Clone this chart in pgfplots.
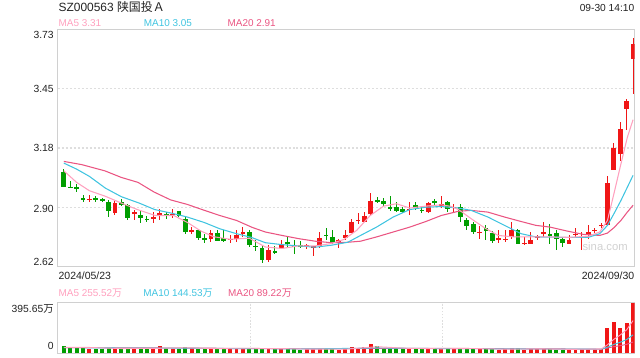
\documentclass[border=0pt]{standalone}
\usepackage{pgfplots}
\pgfplotsset{compat=1.18}
\usepackage{pgfplotstable}
\usepackage{fontspec}
\setmainfont{Liberation Sans}
\newfontfamily\cjk{Noto Sans CJK SC}
\definecolor{cred}{RGB}{240,22,22}
\definecolor{cgreen}{RGB}{0,158,0}
\definecolor{maf}{RGB}{255,160,190}
\definecolor{mat}{RGB}{64,196,224}
\definecolor{maw}{RGB}{234,85,130}
\definecolor{txt}{RGB}{34,34,34}
\definecolor{framec}{RGB}{208,208,208}
\definecolor{gridc}{RGB}{222,222,222}
\begin{document}
\pgfplotstableread{
i o h l c v
4 2.937 2.960 2.925 2.941 38
8 2.876 2.932 2.866 2.920 40
11 2.874 2.890 2.843 2.878 40
14 2.844 2.878 2.827 2.856 40
15 2.869 2.893 2.840 2.873 60
17 2.866 2.893 2.851 2.869 35
20 2.783 2.808 2.774 2.796 40
23 2.754 2.793 2.739 2.778 35
26 2.749 2.769 2.735 2.752 32
27 2.754 2.793 2.739 2.769 35
28 2.780 2.808 2.762 2.782 38
32 2.653 2.723 2.646 2.700 42
34 2.712 2.746 2.708 2.726 34
38 2.719 2.730 2.704 2.722 32
39 2.711 2.720 2.673 2.720 34
40 2.718 2.785 2.712 2.758 38
43 2.735 2.754 2.712 2.746 30
44 2.757 2.793 2.746 2.769 32
45 2.782 2.847 2.778 2.832 50
46 2.838 2.873 2.824 2.841 38
47 2.834 2.878 2.832 2.862 48
48 2.867 2.968 2.862 2.932 72
54 2.891 2.925 2.866 2.894 34
57 2.878 2.927 2.873 2.921 38
59 2.906 2.955 2.897 2.917 36
61 2.900 2.917 2.878 2.904 32
65 2.783 2.813 2.754 2.786 32
68 2.752 2.793 2.735 2.755 30
69 2.750 2.796 2.739 2.752 32
70 2.762 2.834 2.754 2.793 42
72 2.731 2.762 2.723 2.734 30
73 2.731 2.785 2.731 2.746 32
74 2.761 2.773 2.746 2.764 33
75 2.780 2.832 2.762 2.783 38
79 2.731 2.772 2.731 2.746 29
80 2.772 2.805 2.762 2.775 30
81 2.764 2.785 2.700 2.767 32
82 2.772 2.816 2.750 2.785 33
83 2.792 2.805 2.780 2.795 35
84 2.815 2.827 2.805 2.818 38
85 2.816 3.048 2.816 3.014 200
86 3.076 3.199 3.076 3.180 245
87 3.149 3.301 3.118 3.265 200
88 3.361 3.409 3.261 3.396 237
89 3.594 3.694 3.431 3.665 395.65
}\up
\pgfplotstableread{
i o h l c v
0 3.067 3.080 2.997 2.997 55
1 2.997 3.025 2.990 2.994 45
2 2.995 3.010 2.970 2.991 50
3 2.942 2.960 2.925 2.938 46
5 2.943 2.955 2.927 2.935 32
6 2.937 2.945 2.925 2.929 32
7 2.925 2.933 2.855 2.885 46
9 2.927 2.940 2.905 2.912 40
10 2.912 2.918 2.840 2.852 38
12 2.865 2.881 2.828 2.850 42
13 2.845 2.862 2.834 2.842 35
16 2.868 2.880 2.847 2.865 42
18 2.885 2.885 2.855 2.862 38
19 2.847 2.862 2.774 2.785 48
21 2.793 2.801 2.746 2.759 36
22 2.756 2.776 2.735 2.752 34
24 2.782 2.793 2.742 2.742 40
25 2.757 2.793 2.739 2.745 36
29 2.785 2.793 2.715 2.723 42
30 2.719 2.746 2.695 2.716 35
31 2.712 2.720 2.642 2.653 45
33 2.695 2.720 2.683 2.688 34
35 2.740 2.762 2.715 2.730 33
36 2.722 2.746 2.683 2.720 36
37 2.721 2.744 2.708 2.719 30
41 2.771 2.804 2.746 2.768 34
42 2.762 2.793 2.730 2.735 32
49 2.934 2.948 2.920 2.930 55
50 2.928 2.943 2.906 2.915 45
51 2.904 2.955 2.885 2.893 42
52 2.904 2.925 2.878 2.882 40
53 2.893 2.901 2.873 2.878 36
55 2.913 2.925 2.890 2.897 40
56 2.889 2.901 2.875 2.886 32
58 2.929 2.940 2.912 2.926 35
60 2.925 2.932 2.878 2.893 40
62 2.901 2.917 2.834 2.855 42
63 2.842 2.850 2.796 2.813 38
64 2.824 2.832 2.777 2.785 40
66 2.803 2.816 2.746 2.790 34
67 2.780 2.788 2.735 2.742 38
71 2.793 2.800 2.731 2.731 42
76 2.774 2.824 2.731 2.771 33
77 2.780 2.793 2.703 2.750 30
78 2.754 2.762 2.715 2.735 30
}\down
\pgfplotsset{candle/.style={draw=none, mark=none, error bars/.cd, y dir=both, y explicit, error mark=none}}
\begin{tikzpicture}
\useasboundingbox (0,0) rectangle (480pt,270pt);
% ---------- price panel ----------
\begin{axis}[at={(40.875pt,68.775pt)}, anchor=south west, scale only axis,
  width=435pt, height=179.1pt,
  xmin=-0.93, xmax=89.23, ymin=2.6225, ymax=3.7325,
  xtick=\empty, ytick={2.9,3.1775,3.455}, yticklabels={}, major tick length=0pt,
  ymajorgrids, grid style={gridc, line width=0.9pt, dash pattern=on 1.5pt off 1.5pt},
  axis line style={framec, line width=0.8pt}]
% wicks
\addplot[candle, error bar style={line width=0.75pt, draw=cred, solid}]
  table[x=i, y expr={(\thisrow{h}+\thisrow{l})/2}, y error expr={(\thisrow{h}-\thisrow{l})/2}] {\up};
\addplot[candle, error bar style={line width=0.75pt, draw=cgreen, solid}]
  table[x=i, y expr={(\thisrow{h}+\thisrow{l})/2}, y error expr={(\thisrow{h}-\thisrow{l})/2}] {\down};
% bodies
\addplot[candle, error bar style={line width=3.6pt, draw=cred, solid}]
  table[x=i, y expr={(\thisrow{o}+\thisrow{c})/2}, y error expr={max(abs(\thisrow{o}-\thisrow{c})/2,0.0022)}] {\up};
\addplot[candle, error bar style={line width=3.6pt, draw=cgreen, solid}]
  table[x=i, y expr={(\thisrow{o}+\thisrow{c})/2}, y error expr={max(abs(\thisrow{o}-\thisrow{c})/2,0.0022)}] {\down};
% MA20
\addplot[draw=maw, line width=0.8pt] table {
0 3.115
2.8 3.100
6.4 3.071
9 3.040
11.6 3.017
14.1 2.972
16.7 2.935
19.3 2.914
21.9 2.887
24.4 2.862
27 2.839
29.5 2.806
31.5 2.785
34.1 2.769
36.7 2.754
39.3 2.742
41.8 2.735
44.4 2.737
46.4 2.742
48.9 2.762
51.5 2.785
54.1 2.808
56.6 2.834
59 2.862
61.7 2.882
63.7 2.886
66.3 2.878
68.9 2.855
71.5 2.834
73.8 2.816
76 2.808
78.6 2.790
81.2 2.774
83.8 2.769
85.0 2.780
86.0 2.805
87.1 2.839
88.1 2.878
89 2.910
};
% MA10
\addplot[draw=mat, line width=0.8pt] table {
0 3.107
2 3.079
4 3.045
6.5 2.990
9 2.950
11.8 2.920
14.2 2.890
17 2.872
19.3 2.855
21.9 2.830
24.4 2.800
27 2.777
29.3 2.760
31.5 2.735
34.1 2.726
36.7 2.720
39.3 2.714
41.8 2.723
44.4 2.737
46.4 2.769
48.9 2.808
51.5 2.855
54.1 2.890
56.6 2.901
59 2.904
61.7 2.897
63.7 2.886
66.3 2.855
68.9 2.816
71.5 2.777
73.8 2.762
78 2.760
82 2.760
83.8 2.777
85.0 2.816
86.0 2.870
87.1 2.932
88.1 2.994
89 3.050
};
% MA5
\addplot[draw=maf, line width=0.8pt] table {
0 3.071
2 3.017
4 2.978
6.5 2.952
9 2.920
11.5 2.890
14.3 2.862
17.2 2.862
19.3 2.830
21.4 2.790
23.4 2.763
26 2.751
29 2.756
31.5 2.715
34.1 2.708
36.7 2.720
39.3 2.720
41.8 2.731
43.8 2.750
45.8 2.793
47.9 2.862
50 2.906
52 2.917
54.1 2.897
56.6 2.906
59 2.912
60.5 2.905
61.7 2.890
63.7 2.847
65.8 2.804
67.9 2.769
70.4 2.762
73.5 2.762
76 2.762
79 2.760
82 2.765
83.8 2.785
85.0 2.839
86.0 2.963
87.1 3.103
88.1 3.227
89 3.310
};
\end{axis}
% ---------- volume panel ----------
\begin{axis}[at={(40.875pt,3.375pt)}, anchor=south west, scale only axis,
  width=435pt, height=38.4pt,
  xmin=-0.93, xmax=89.23, ymin=0, ymax=395.65,
  xtick={29.12,59.17}, xticklabels={}, ytick=\empty, major tick length=0pt,
  xmajorgrids, grid style={gridc, line width=0.8pt, dash pattern=on 1.2pt off 1.2pt},
  axis line style={framec, line width=0.8pt}]
\addplot[ycomb, draw=cred, line width=3pt] table[x=i, y=v] {\up};
\addplot[ycomb, draw=cgreen, line width=3pt] table[x=i, y=v] {\down};
\addplot[draw=maw, line width=0.7pt] table {
0 45
19 42.1
29 39.3
39 36.2
49 39.2
59 40.35
69 36.8
79 34.8
84 33.65
85 42
86 52.6
87 60.7
88 71
89 89.22
};
\addplot[draw=mat, line width=0.7pt] table {
0 45
9 42.4
19 41.8
29 36.8
39 35.5
49 42.9
59 37.8
69 35.8
79 33.9
84 32.8
85 49
86 70.2
87 87.2
88 107.9
89 144.53
};
\addplot[draw=maf, line width=0.7pt] table {
0 48
4 46.8
9 38
14 39
19 44.6
24 37
29 36.6
34 38
39 33
44 33.2
49 52.6
54 39.4
59 36.2
64 38.4
69 33.2
74 35.8
79 32
84 33.6
85 67.6
86 110
87 143.6
88 184
89 255.52
};
\end{axis}
% ---------- texts ----------
\begin{scope}[x=0.75pt, y=-0.75pt, yshift=270pt]
\node[anchor=base west, inner sep=0pt, text=txt, font={\fontsize{9}{10}\selectfont}] at (55,11.7) {SZ000563 {\cjk 陕国投Ａ}};
\node[anchor=base east, inner sep=0pt, text=txt, font={\fontsize{7.7}{9}\selectfont}] at (634.5,11.7) {09-30 14:10};
\node[anchor=base west, inner sep=0pt, text=maf, font={\fontsize{7.5}{9}\selectfont}] at (55,27) {MA5 3.31};
\node[anchor=base west, inner sep=0pt, text=mat, font={\fontsize{7.5}{9}\selectfont}] at (140.7,27) {MA10 3.05};
\node[anchor=base west, inner sep=0pt, text=maw, font={\fontsize{7.5}{9}\selectfont}] at (225,27) {MA20 2.91};
\foreach \yy/\lab in {38.3/3.73, 93.1/3.45, 152.8/3.18, 213.3/2.90, 267.5/2.62}
  \node[anchor=base east, inner sep=0pt, text=txt, font={\fontsize{7.8}{9}\selectfont}] at (50.5,\yy) {\lab};
\node[anchor=base west, inner sep=0pt, text=txt, font={\fontsize{7.9}{9}\selectfont}] at (55,281.3) {2024/05/23};
\node[anchor=base east, inner sep=0pt, text=txt, font={\fontsize{7.9}{9}\selectfont}] at (634.5,281.3) {2024/09/30};
\node[anchor=base west, inner sep=0pt, text=maf, font={\fontsize{7.5}{9}\selectfont}] at (55,298.5) {MA5 255.52{\cjk 万}};
\node[anchor=base west, inner sep=0pt, text=mat, font={\fontsize{7.5}{9}\selectfont}] at (140.3,298.5) {MA10 144.53{\cjk 万}};
\node[anchor=base west, inner sep=0pt, text=maw, font={\fontsize{7.5}{9}\selectfont}] at (225.5,298.5) {MA20 89.22{\cjk 万}};
\node[anchor=base east, inner sep=0pt, text=txt, font={\fontsize{7.8}{9}\selectfont}] at (50.5,314.5) {395.65{\cjk 万}};
\node[anchor=base east, inner sep=0pt, text=txt, font={\fontsize{7.8}{9}\selectfont}] at (50.5,351.7) {0};
\node[anchor=base west, inner sep=0pt, text=black!18, font={\fontsize{8.5}{9}\selectfont}] at (582,252) {sina.com};
\end{scope}
\end{tikzpicture}
\end{document}
